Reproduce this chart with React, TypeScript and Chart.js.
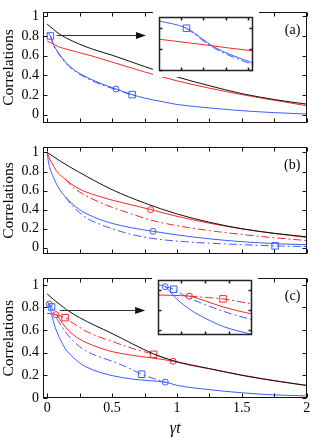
import React, { useEffect, useRef } from "react";
import { Chart, registerables } from "chart.js";
Chart.register(...registerables);

const SERIF = '"Liberation Serif", "Times New Roman", serif';
const BLUE = "#3f5cff";
const RED = "#ff2626";
const BLACK = "#111111";
const DASH = [8, 3, 2, 3];

// shared axes
const X_MIN = -0.032;
const X_MAX = 2.005;
const X_LABELS = [0, 0.5, 1, 1.5, 2];
const X_MARKS = [0, 0.25, 0.5, 0.75, 1, 1.25, 1.5, 1.75, 2];
const Y_LABELS = [0, 0.2, 0.4, 0.6, 0.8, 1];

// ---------- panel (a) ----------
const aBlackT = [0, 0.05, 0.1, 0.2, 0.3, 0.4, 0.5, 0.75, 1.0, 1.25, 1.5, 1.75, 2.0];
const aBlackV = [0.92, 0.865, 0.815, 0.745, 0.69, 0.645, 0.605, 0.49, 0.385, 0.295, 0.215, 0.155, 0.108];
const aRedT = [0, 0.04, 0.085, 0.15, 0.25, 0.35, 0.5, 0.75, 1.0, 1.25, 1.5, 1.75, 2.0];
const aRedV = [0.748, 0.722, 0.692, 0.665, 0.63, 0.595, 0.535, 0.435, 0.345, 0.27, 0.205, 0.148, 0.092];
const aBlueT = [0, 0.025, 0.05, 0.085, 0.12, 0.16, 0.2, 0.25, 0.3, 0.4, 0.53, 0.655, 0.75, 0.9, 1.0, 1.25, 1.5, 1.75, 2.0];
const aBlueV = [0.835, 0.8, 0.71, 0.634, 0.57, 0.51, 0.465, 0.42, 0.385, 0.325, 0.262, 0.205, 0.17, 0.13, 0.105, 0.07, 0.042, 0.022, 0.008];
const aBlueDT = [0.025, 0.05, 0.085, 0.12, 0.2, 0.3, 0.4, 0.53, 0.655, 0.7];
const aBlueDV = [0.8, 0.705, 0.626, 0.56, 0.455, 0.375, 0.315, 0.255, 0.2, 0.185];
const aBlueSqT = [0.025, 0.655];
const aBlueSqV = [0.8, 0.205];
const aBlueCiT = [0.53];
const aBlueCiV = [0.262];
const aArrow = [0.073, 0.806, 0.761, 0.806];

// ---------- panel (b) ----------
const bBlackT = [0, 0.05, 0.1, 0.25, 0.5, 0.75, 1.0, 1.25, 1.5, 1.75, 2.0];
const bBlackV = [1.0, 0.955, 0.91, 0.79, 0.61, 0.47, 0.355, 0.268, 0.2, 0.152, 0.115];
const bRedT = [0, 0.02, 0.04, 0.07, 0.1, 0.14, 0.19, 0.25, 0.3, 0.4, 0.5, 0.65, 0.8, 1.0, 1.25, 1.5, 1.75, 2.0];
const bRedV = [1.0, 0.93, 0.88, 0.81, 0.765, 0.72, 0.665, 0.615, 0.585, 0.54, 0.5, 0.45, 0.4, 0.33, 0.258, 0.198, 0.15, 0.108];
const bRedDT = [0.14, 0.19, 0.25, 0.3, 0.4, 0.5, 0.65, 0.8, 1.0, 1.25, 1.5, 1.75, 2.0];
const bRedDV = [0.72, 0.645, 0.585, 0.545, 0.48, 0.425, 0.355, 0.29, 0.232, 0.18, 0.14, 0.105, 0.076];
const bBlueT = [0, 0.01, 0.02, 0.05, 0.09, 0.14, 0.19, 0.25, 0.3, 0.4, 0.5, 0.65, 0.815, 1.0, 1.25, 1.5, 1.75, 2.0];
const bBlueV = [1.0, 0.9, 0.84, 0.735, 0.625, 0.535, 0.465, 0.4, 0.36, 0.3, 0.256, 0.21, 0.173, 0.135, 0.094, 0.064, 0.044, 0.032];
const bBlueDT = [0.14, 0.19, 0.25, 0.3, 0.4, 0.5, 0.65, 0.8, 1.0, 1.25, 1.5, 1.756, 2.0];
const bBlueDV = [0.535, 0.445, 0.37, 0.315, 0.25, 0.2, 0.14, 0.1, 0.07, 0.048, 0.033, 0.02, 0.013];
const bRedCiT = [0.797];
const bRedCiV = [0.4];
const bBlueCiT = [0.815];
const bBlueCiV = [0.173];
const bBlueSqT = [1.756];
const bBlueSqV = [0.02];

// ---------- panel (c) ----------
const cBlackT = [0, 0.05, 0.1, 0.15, 0.25, 0.5, 0.82, 0.97, 1.25, 1.5, 1.75, 2.0];
const cBlackV = [0.92, 0.87, 0.825, 0.78, 0.71, 0.57, 0.39, 0.33, 0.26, 0.2, 0.152, 0.11];
const cRedT = [0, 0.05, 0.067, 0.1, 0.14, 0.2, 0.25, 0.3, 0.4, 0.5, 0.65, 0.8, 0.97, 1.1, 1.25, 1.5, 1.75, 2.0];
const cRedV = [0.748, 0.742, 0.737, 0.69, 0.628, 0.56, 0.52, 0.49, 0.445, 0.41, 0.378, 0.355, 0.325, 0.29, 0.258, 0.203, 0.154, 0.112];
const cRedDT = [0.067, 0.1, 0.138, 0.2, 0.25, 0.3, 0.4, 0.5, 0.65, 0.82, 0.9, 0.97];
const cRedDV = [0.737, 0.725, 0.71, 0.66, 0.625, 0.59, 0.54, 0.5, 0.44, 0.386, 0.355, 0.325];
const cBlueT = [0, 0.016, 0.04, 0.07, 0.1, 0.14, 0.2, 0.25, 0.3, 0.4, 0.5, 0.65, 0.8, 0.91, 1.0, 1.25, 1.5, 1.75, 2.0];
const cBlueV = [0.85, 0.83, 0.71, 0.6, 0.52, 0.435, 0.36, 0.31, 0.275, 0.23, 0.198, 0.168, 0.152, 0.14, 0.112, 0.074, 0.046, 0.027, 0.019];
const cBlueDT = [0.016, 0.034, 0.059, 0.1, 0.14, 0.2, 0.25, 0.3, 0.4, 0.5, 0.6, 0.728, 0.82, 0.91];
const cBlueDV = [0.83, 0.805, 0.735, 0.655, 0.585, 0.505, 0.455, 0.415, 0.365, 0.325, 0.28, 0.21, 0.172, 0.14];
const cBlueCiT = [0.016, 0.91];
const cBlueCiV = [0.83, 0.14];
const cBlueSqT = [0.034, 0.728];
const cBlueSqV = [0.805, 0.21];
const cRedCiT = [0.067, 0.97];
const cRedCiV = [0.737, 0.325];
const cRedSqT = [0.138, 0.82];
const cRedSqV = [0.71, 0.386];
const cArrow = [0.097, 0.78, 0.755, 0.78];

// insets
const insetAX = [0, 0.085];
const insetAY = [0.595, 0.855];
const insetAXMarks = [0.02, 0.04, 0.06, 0.08];
const insetAYMarks = [0.6, 0.7, 0.8];
const insetCX = [0, 0.2];
const insetCY = [0.35, 0.9];
const insetCXMarks = [0.05, 0.1, 0.15];
const insetCYMarks = [0.4, 0.6, 0.8];

const zip = (t: number[], v: number[]) => t.map((x, i) => ({ x, y: v[i] }));

type S = { t: number[]; v: number[]; color: string; dash?: boolean };
type M = { t: number[]; v: number[]; color: string; style: string };

const line = (s: S) => ({
  data: zip(s.t, s.v),
  borderColor: s.color,
  borderWidth: 1,
  borderDash: s.dash ? DASH : [],
  pointRadius: 0,
  fill: false,
  cubicInterpolationMode: "monotone",
});
const mark = (m: M) => ({
  data: zip(m.t, m.v),
  showLine: false,
  pointStyle: m.style,
  pointRadius: m.style === "rect" ? 4.6 : 3,
  pointBorderColor: m.color,
  pointBackgroundColor: "rgba(255,255,255,0)",
  pointBorderWidth: 1,
  borderColor: m.color,
});

const panelA = {
  series: [
    { t: aBlackT, v: aBlackV, color: BLACK },
    { t: aRedT, v: aRedV, color: RED },
    { t: aBlueDT, v: aBlueDV, color: BLUE, dash: true },
    { t: aBlueT, v: aBlueV, color: BLUE },
  ] as S[],
  markers: [
    { t: aBlueSqT, v: aBlueSqV, color: BLUE, style: "rect" },
    { t: aBlueCiT, v: aBlueCiV, color: BLUE, style: "circle" },
  ] as M[],
};
const panelB = {
  series: [
    { t: bBlackT, v: bBlackV, color: BLACK },
    { t: bRedDT, v: bRedDV, color: RED, dash: true },
    { t: bRedT, v: bRedV, color: RED },
    { t: bBlueDT, v: bBlueDV, color: BLUE, dash: true },
    { t: bBlueT, v: bBlueV, color: BLUE },
  ] as S[],
  markers: [
    { t: bRedCiT, v: bRedCiV, color: RED, style: "circle" },
    { t: bBlueCiT, v: bBlueCiV, color: BLUE, style: "circle" },
    { t: bBlueSqT, v: bBlueSqV, color: BLUE, style: "rect" },
  ] as M[],
};
const panelC = {
  series: [
    { t: cBlackT, v: cBlackV, color: BLACK },
    { t: cRedDT, v: cRedDV, color: RED, dash: true },
    { t: cRedT, v: cRedV, color: RED },
    { t: cBlueDT, v: cBlueDV, color: BLUE, dash: true },
    { t: cBlueT, v: cBlueV, color: BLUE },
  ] as S[],
  markers: [
    { t: cBlueCiT, v: cBlueCiV, color: BLUE, style: "circle" },
    { t: cBlueSqT, v: cBlueSqV, color: BLUE, style: "rect" },
    { t: cRedCiT, v: cRedCiV, color: RED, style: "circle" },
    { t: cRedSqT, v: cRedSqV, color: RED, style: "rect" },
  ] as M[],
};

const framePlugin = {
  id: "frame",
  beforeDraw(chart: any, _a: any, o: any) {
    if (!o.fill) return;
    const { ctx, width, height } = chart;
    ctx.save();
    ctx.fillStyle = o.fill;
    ctx.fillRect(0, 0, width, height);
    ctx.restore();
  },
  afterDatasetsDraw(chart: any, _a: any, o: any) {
    if (!o.arrow) return;
    const { ctx, scales } = chart;
    const [t0, v0, t1, v1] = o.arrow;
    const x0 = scales.x.getPixelForValue(t0);
    const y0 = Math.round(scales.y.getPixelForValue(v0)) + 0.5;
    const x1 = scales.x.getPixelForValue(t1);
    const y1 = Math.round(scales.y.getPixelForValue(v1)) + 0.5;
    ctx.save();
    ctx.strokeStyle = "#333";
    ctx.fillStyle = "#111";
    ctx.lineWidth = 1;
    ctx.beginPath();
    ctx.moveTo(x0, y0);
    ctx.lineTo(x1 - 8, y1);
    ctx.stroke();
    ctx.beginPath();
    ctx.moveTo(x1, y1);
    ctx.lineTo(x1 - 10, y1 - 3.5);
    ctx.lineTo(x1 - 10, y1 + 3.5);
    ctx.closePath();
    ctx.fill();
    ctx.restore();
  },
  afterDraw(chart: any, _a: any, o: any) {
    const { ctx, chartArea: ca, scales } = chart;
    ctx.save();
    ctx.strokeStyle = o.color || "#111";
    ctx.lineWidth = o.lw || 1;
    const L = Math.round(ca.left) + 0.5;
    const R = Math.round(ca.right) - 0.5;
    const T = Math.round(ca.top) + 0.5;
    const B = Math.round(ca.bottom) - 0.5;
    const len = o.tick || 4;
    ctx.beginPath();
    (o.xMarks || []).forEach((v: number) => {
      const p = Math.round(scales.x.getPixelForValue(v)) + 0.5;
      ctx.moveTo(p, B);
      ctx.lineTo(p, B - len);
      ctx.moveTo(p, T);
      ctx.lineTo(p, T + len);
    });
    (o.yMarks || []).forEach((v: number) => {
      const p = Math.round(scales.y.getPixelForValue(v)) + 0.5;
      ctx.moveTo(L, p);
      ctx.lineTo(L + len, p);
      ctx.moveTo(R, p);
      ctx.lineTo(R - len, p);
    });
    ctx.stroke();
    ctx.strokeRect(L, T, R - L, B - T);
    if (o.label) {
      ctx.fillStyle = "#000";
      ctx.font = `14px ${SERIF}`;
      ctx.textAlign = "right";
      ctx.textBaseline = "middle";
      ctx.fillText(o.label, ca.right - 7, ca.top + 17.5);
    }
    ctx.restore();
  },
};

function mainConfig(p: any, o: any) {
  const fontTick = { family: SERIF, size: 14 };
  return {
    type: "line",
    data: {
      datasets: [...p.series.map(line), ...p.markers.map(mark)],
    },
    options: {
      animation: false,
      responsive: false,
      devicePixelRatio: 1,
      events: [],
      layout: { padding: { left: 0, right: 4, top: o.padTop, bottom: o.padBottom } },
      plugins: {
        legend: { display: false },
        tooltip: { enabled: false },
        frame: { xMarks: X_MARKS, yMarks: Y_LABELS, label: o.label, arrow: o.arrow, tick: 4 },
      },
      scales: {
        x: {
          type: "linear",
          min: X_MIN,
          max: X_MAX,
          display: o.showX,
          afterBuildTicks: (s: any) => {
            s.ticks = X_LABELS.map((value) => ({ value }));
          },
          afterFit: (s: any) => {
            s.height = o.showX ? 40 : 0;
          },
          grid: { display: false, drawTicks: false },
          border: { display: false },
          ticks: {
            color: "#000",
            font: fontTick,
            padding: 2,
            maxRotation: 0,
            autoSkip: false,
            callback: (v: any) => String(v),
          },
          title: {
            display: true,
            text: "γt",
            color: "#000",
            font: { family: SERIF, size: 16, style: "italic" },
            padding: { top: 0, bottom: 0 },
          },
        },
        y: {
          type: "linear",
          min: o.yMin,
          max: o.yMax,
          afterBuildTicks: (s: any) => {
            s.ticks = Y_LABELS.map((value) => ({ value }));
          },
          afterFit: (s: any) => {
            s.width = 43;
          },
          grid: { display: false, drawTicks: false },
          border: { display: false },
          ticks: { color: "#000", font: fontTick, padding: 4, autoSkip: false, callback: (v: any) => String(v) },
          title: {
            display: true,
            text: "Correlations",
            color: "#000",
            font: { family: SERIF, size: 15.5 },
            padding: { top: 0, bottom: 0 },
          },
        },
      },
    },
    plugins: [framePlugin],
  };
}

function insetConfig(p: any, xr: number[], yr: number[], xm: number[], ym: number[]) {
  return {
    type: "line",
    data: {
      datasets: [...p.series.filter((s: S) => s.color !== BLACK).map(line), ...p.markers.map(mark)],
    },
    options: {
      animation: false,
      responsive: false,
      devicePixelRatio: 1,
      events: [],
      layout: { padding: 0 },
      plugins: {
        legend: { display: false },
        tooltip: { enabled: false },
        frame: { fill: "#ffffff", xMarks: xm, yMarks: ym, tick: 3, lw: 1.5, color: "#222" },
      },
      scales: {
        x: { type: "linear", min: xr[0], max: xr[1], display: false },
        y: { type: "linear", min: yr[0], max: yr[1], display: false },
      },
    },
    plugins: [framePlugin],
  };
}

function ChartBox({ make, left, top, width, height }: any) {
  const ref = useRef<HTMLCanvasElement>(null);
  useEffect(() => {
    const chart = new Chart(ref.current as HTMLCanvasElement, make() as any);
    return () => chart.destroy();
  }, []);
  return (
    <canvas
      ref={ref}
      width={width}
      height={height}
      style={{ position: "absolute", left, top, width, height }}
    />
  );
}

export default function App() {
  Chart.defaults.font.family = SERIF;
  Chart.defaults.color = "#000";
  return (
    <div style={{ position: "fixed", left: 0, top: 0, width: 313, height: 438, background: "#fff", overflow: "hidden" }}>
      <ChartBox
        left={0}
        top={0}
        width={313}
        height={135}
        make={() => mainConfig(panelA, { padTop: 5, padBottom: 2, yMin: -0.079, yMax: 1.039, showX: false, label: "(a)", arrow: aArrow })}
      />
      <ChartBox
        left={0}
        top={135}
        width={313}
        height={131}
        make={() => mainConfig(panelB, { padTop: 2, padBottom: 2, yMin: -0.061, yMax: 1.053, showX: false, label: "(b)" })}
      />
      <ChartBox
        left={0}
        top={266}
        width={313}
        height={172}
        make={() => mainConfig(panelC, { padTop: 2, padBottom: 0, yMin: 0, yMax: 1.057, showX: true, label: "(c)", arrow: cArrow })}
      />
      <ChartBox
        left={153}
        top={11}
        width={106}
        height={66}
        make={() => insetConfig(panelA, insetAX, insetAY, insetAXMarks, insetAYMarks)}
      />
      <ChartBox
        left={152}
        top={274}
        width={106}
        height={67}
        make={() => insetConfig(panelC, insetCX, insetCY, insetCXMarks, insetCYMarks)}
      />
    </div>
  );
}
